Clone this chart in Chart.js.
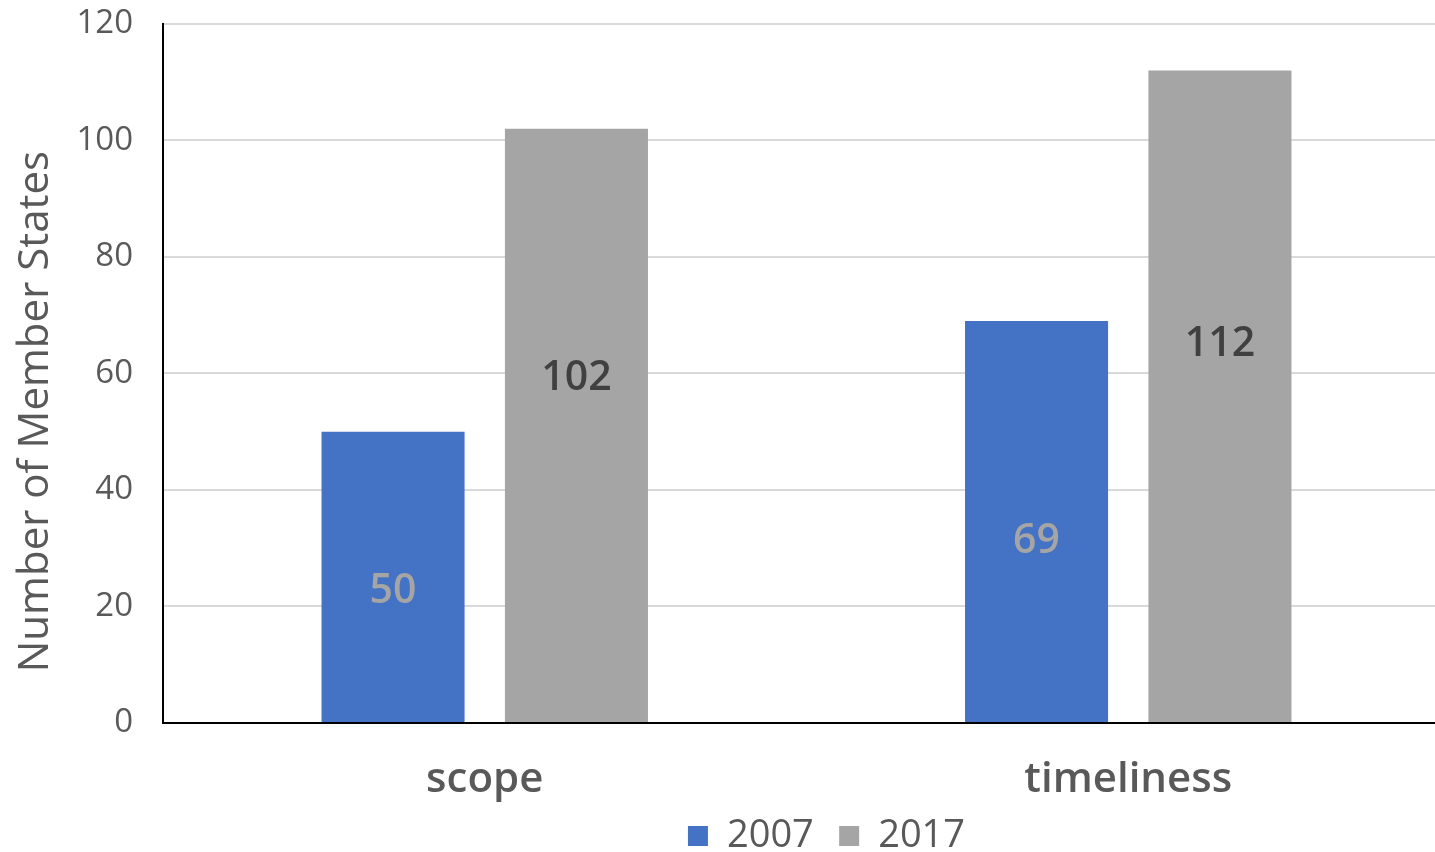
<!DOCTYPE html>
<html>
<head>
<meta charset="utf-8">
<script src="https://cdn.jsdelivr.net/npm/chart.js@4"></script>
<style>
  html, body { margin: 0; padding: 0; background: #fff; overflow: hidden; }
  .chart-wrap { width: 1450px; height: 852px; }
</style>
</head>
<body>
<div class="chart-wrap"><canvas id="chart"></canvas></div>
<script>
const categories = ['scope', 'timeliness'];
const years = ['2007', '2017'];
const values2007 = [50, 69];
const values2017 = [102, 112];
const yTicks = [0, 20, 40, 60, 80, 100, 120];

const FONT = "'Open Sans', sans-serif";
const grey = '#595959';

// simple inline data labels (no datalabels plugin available offline)
const barLabels = {
  id: 'barLabels',
  afterDatasetsDraw(chart) {
    const { ctx } = chart;
    chart.data.datasets.forEach((ds, i) => {
      const meta = chart.getDatasetMeta(i);
      meta.data.forEach((bar, j) => {
        const y = bar.base - (bar.base - bar.y) * ds.labelAt;
        ctx.save();
        ctx.font = `600 41px ${FONT}`;
        ctx.fillStyle = ds.labelColor;
        ctx.textAlign = 'center';
        ctx.textBaseline = 'middle';
        ctx.fillText(ds.data[j], bar.x, y);
        ctx.restore();
      });
    });
  }
};

// the legend sits right of centre and a bit higher in the original
const legendShift = {
  id: 'legendShift',
  afterLayout(chart) {
    const lg = chart.legend;
    lg.left += 96; lg.right += 96;
    lg.top -= 20; lg.bottom -= 20;
  }
};

new Chart(document.getElementById('chart'), {
  type: 'bar',
  data: {
    labels: categories,
    datasets: [
      { label: years[0], data: values2007, backgroundColor: '#4472C4', labelColor: '#A5A5A5', labelAt: 0.45,
        categoryPercentage: 0.57, barPercentage: 0.78 },
      { label: years[1], data: values2017, backgroundColor: '#A5A5A5', labelColor: '#404040', labelAt: 0.58,
        categoryPercentage: 0.57, barPercentage: 0.78 },
    ]
  },
  options: {
    responsive: true,
    maintainAspectRatio: false,
    animation: false,
    layout: { padding: { top: 0, right: 0, bottom: -33, left: 11 } },
    plugins: {
      legend: {
        position: 'bottom',
        labels: {
          font: { family: FONT, size: 38, lineHeight: 1 }, color: grey, boxWidth: 20, boxHeight: 20, padding: 0,
          generateLabels: chart => {
            const items = Chart.defaults.plugins.legend.labels.generateLabels(chart);
            items.forEach((it, i) => { if (i < items.length - 1) it.text += '\u2002\u2009'; });
            return items;
          }
        }
      },
      tooltip: { enabled: false }
    },
    scales: {
      x: {
        grid: { display: false, drawTicks: false },
        border: { color: '#000', width: 2 },
        ticks: { font: { family: FONT, size: 42, weight: '600', lineHeight: 1 }, color: grey, padding: 36 }
      },
      y: {
        min: 0, max: 120,
        afterBuildTicks: axis => { axis.ticks = yTicks.map(v => ({ value: v })); },
        grid: { color: '#D9D9D9', lineWidth: 2, drawTicks: true, tickLength: 26, tickColor: 'rgba(0,0,0,0)' },
        border: { color: '#000', width: 2 },
        ticks: { font: { family: FONT, size: 33 }, color: grey, padding: 4 },
        title: { display: true, text: 'Number of Member States       ', font: { family: FONT, size: 42 }, color: grey,
                 padding: { top: 0, bottom: 11 } }
      }
    }
  },
  plugins: [barLabels, legendShift]
});
</script>
</body>
</html>
